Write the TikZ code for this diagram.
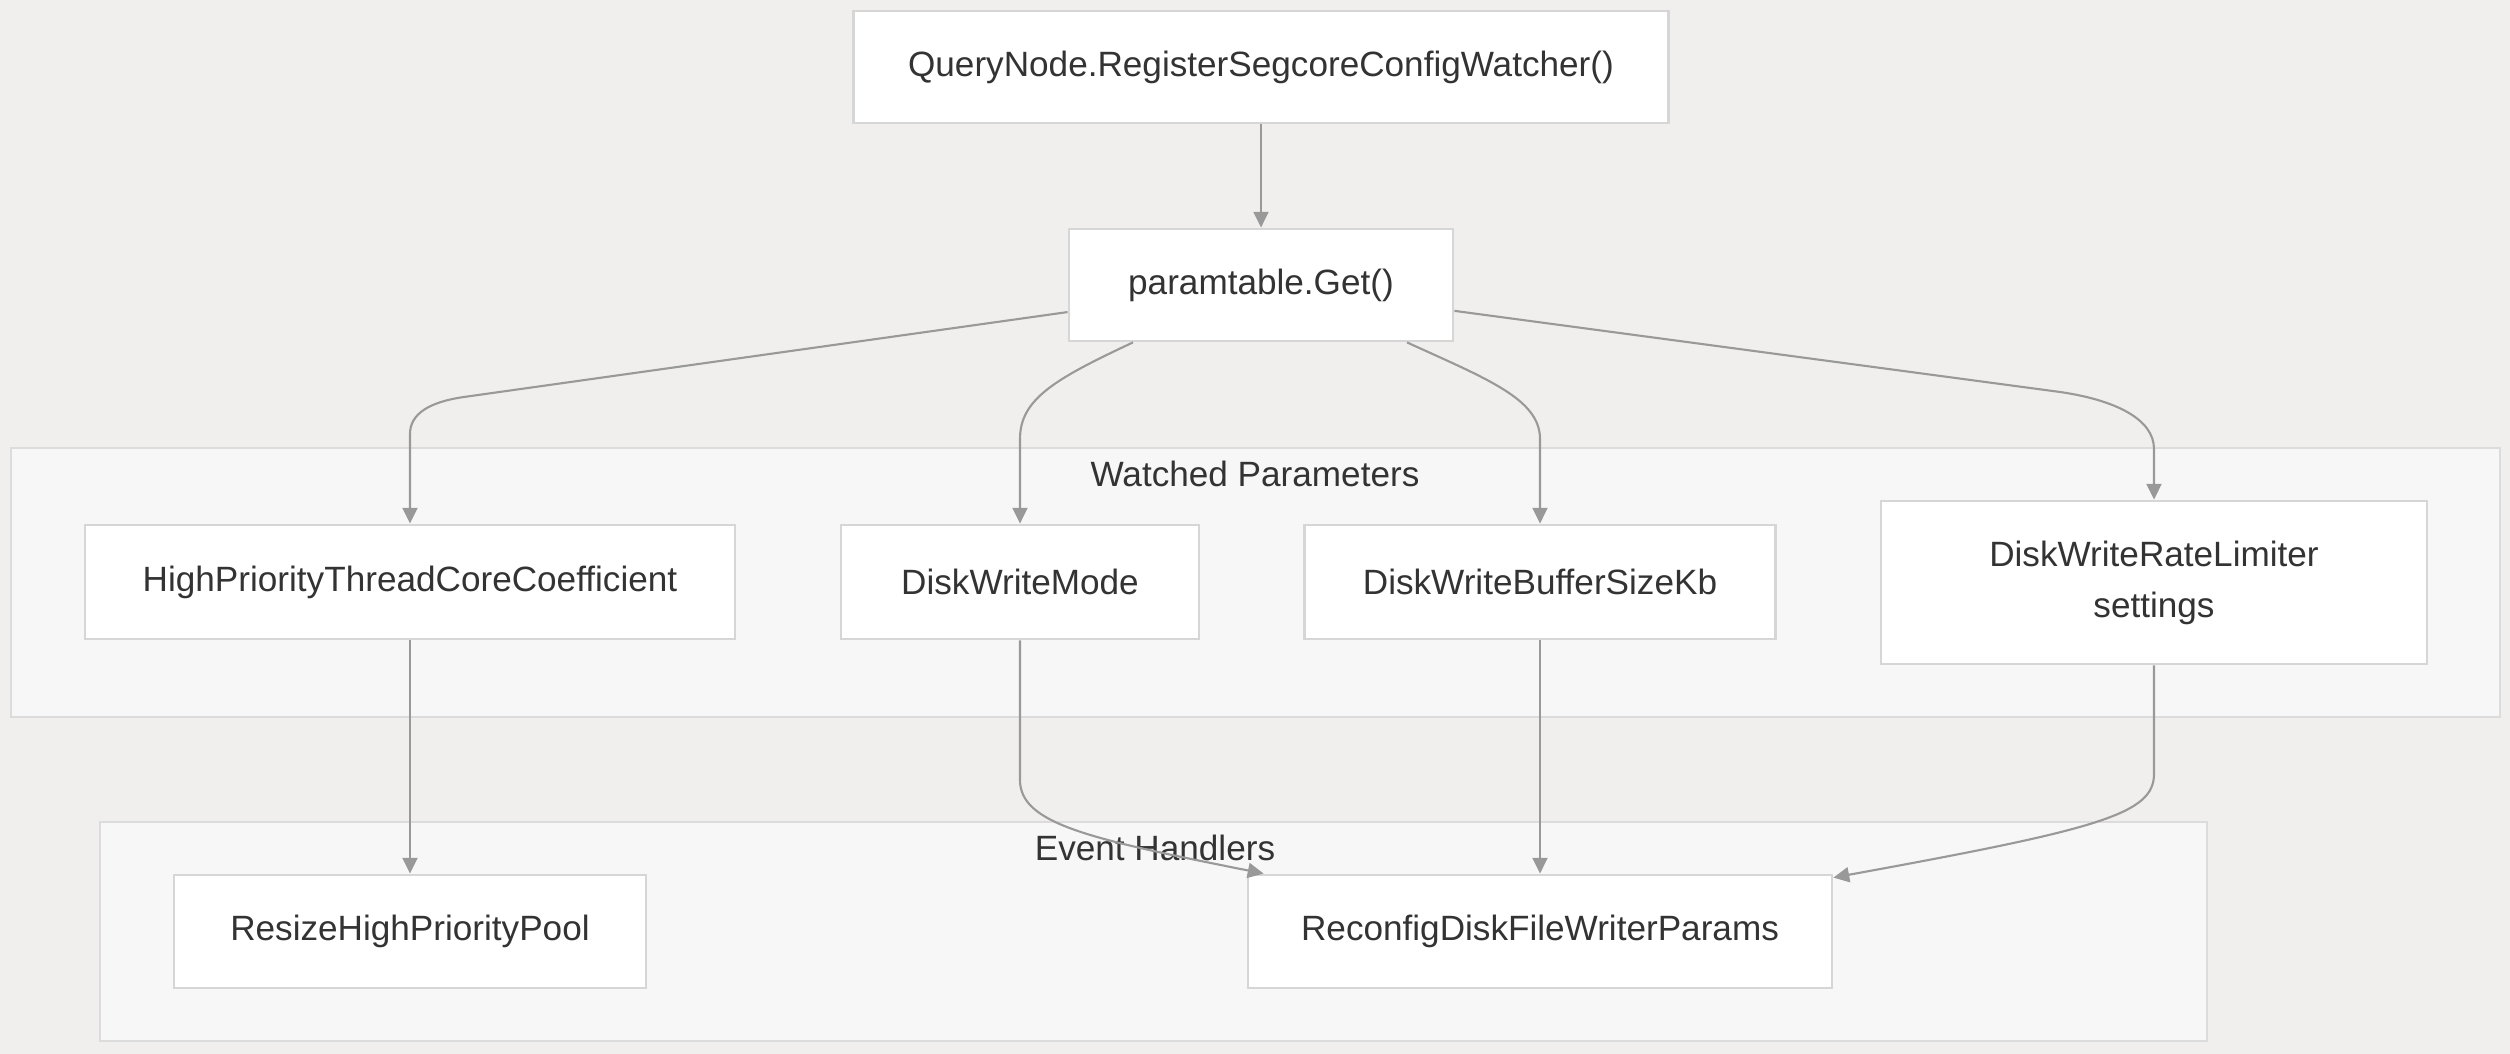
\documentclass[tikz,border=0pt]{standalone}
\usepackage{fontspec}
\setmainfont{Liberation Sans}
\usetikzlibrary{arrows.meta}
\definecolor{bgc}{HTML}{F0EFED}
\definecolor{grpfill}{HTML}{F7F7F7}
\definecolor{grpline}{HTML}{DCDCDC}
\definecolor{blkline}{HTML}{D6D6D6}
\definecolor{txt}{HTML}{333333}
\colorlet{link}{black!40}
\tikzset{
  blk/.style={draw=blkline,fill=white,line width=.8pt,inner sep=0pt,align=center,
    text=txt,font=\fontsize{10}{14.5}\selectfont},
  grp/.style={draw=grpline,fill=grpfill,line width=.8pt},
  glabel/.style={text=txt,font=\fontsize{10}{12}\selectfont},
  conn/.style={draw=link,line width=.6pt,-{Triangle[length=4.5pt,width=4.3pt]}}
}

\begin{document}
\begin{tikzpicture}
  \fill[bgc] (0,0) rectangle (25.10,10.54);
  % subgraphs
  \draw[grp] (0.11,3.37) rectangle (25.00,6.06);
  \draw[grp] (1.00,0.13) rectangle (22.07,2.32);
  \node[glabel] (wplab) at (12.55,5.80) {Watched Parameters};
  \node[glabel] (ehlab) at (11.55,2.06) {Event Handlers};
  % nodes
  \node[blk,minimum width=8.15cm,minimum height=1.12cm] (qn) at (12.61,9.87) {QueryNode.RegisterSegcoreConfigWatcher()};
  \node[blk,minimum width=3.84cm,minimum height=1.12cm] (pt) at (12.61,7.69) {paramtable.Get()};
  \node[blk,minimum width=6.50cm,minimum height=1.14cm] (hp) at (4.10,4.72) {HighPriorityThreadCoreCoefficient};
  \node[blk,minimum width=3.58cm,minimum height=1.14cm] (dwm) at (10.20,4.72) {DiskWriteMode};
  \node[blk,minimum width=4.71cm,minimum height=1.14cm] (dwb) at (15.40,4.72) {DiskWriteBufferSizeKb};
  \node[blk,minimum width=5.46cm,minimum height=1.63cm] (dwr) at (21.54,4.715) {DiskWriteRateLimiter\\settings};
  \node[blk,minimum width=4.72cm,minimum height=1.13cm] (rh) at (4.10,1.225) {ResizeHighPriorityPool};
  \node[blk,minimum width=5.84cm,minimum height=1.13cm] (rc) at (15.40,1.225) {ReconfigDiskFileWriterParams};
  % edges
  \draw[conn] (qn) -- (pt);
  \draw[conn] (pt) -- (4.64,6.57) .. controls (4.29,6.52) and (4.10,6.40) .. (4.10,6.20) -- (hp);
  \draw[conn] ([xshift=-1.28cm]pt.south) .. controls (10.55,6.75) and (10.20,6.55) .. (10.20,6.15) -- (dwm);
  \draw[conn] ([xshift=1.46cm]pt.south) .. controls (14.87,6.75) and (15.40,6.55) .. (15.40,6.15) -- (dwb);
  \draw[conn] (pt) -- (20.60,6.62) .. controls (21.15,6.54) and (21.54,6.35) .. (21.54,6.05) -- (dwr);
  \draw[conn] (hp) -- (rh);
  \draw[conn] (dwm) -- (10.20,2.74) .. controls (10.20,2.30) and (10.90,2.15) .. ([xshift=0.17cm]rc.north west);
  \draw[conn] (dwb) -- (rc);
  \draw[conn] (dwr) -- (21.54,2.80) .. controls (21.54,2.40) and (21.00,2.25) .. ([yshift=-0.04cm]rc.north east);
\end{tikzpicture}
\end{document}
